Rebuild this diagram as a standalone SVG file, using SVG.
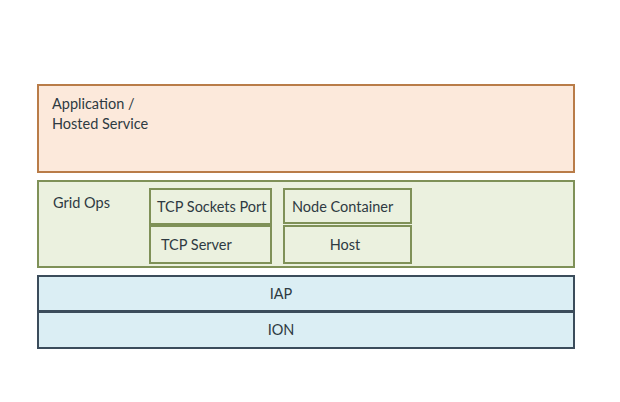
<svg xmlns="http://www.w3.org/2000/svg" width="620" height="402" viewBox="0 0 620 402">
<style>
text{font-family:Lato,"Open Sans","Liberation Sans",sans-serif;font-size:14.5px;fill:#2e3a42}
.app{fill:#fce9db;stroke:#b97c48;stroke-width:2}
.grid{fill:#ebf1df;stroke:#7f9158;stroke-width:2}
.inner{fill:#ebf1df;stroke:#7f9158;stroke-width:2}
.net{fill:#dbeef4;stroke:#3b4c5b;stroke-width:2}
.c{text-anchor:middle}
</style>
<rect width="620" height="402" fill="#ffffff"/>
<g id="application">
<rect class="app" x="38" y="85" width="536" height="87"/>
<text x="52" y="109">Application /</text>
<text x="52" y="129">Hosted Service</text>
</g>
<g id="gridops">
<rect class="grid" x="38" y="181" width="536" height="86"/>
<text x="53" y="208">Grid Ops</text>
</g>
<g id="tcpsocketsport">
<rect class="inner" x="150" y="189" width="121" height="35"/>
<text x="157" y="212">TCP Sockets Port</text>
</g>
<g id="tcpserver">
<rect class="inner" x="150" y="226" width="121" height="37"/>
<text x="161" y="250">TCP Server</text>
</g>
<g id="nodecontainer">
<rect class="inner" x="284" y="189" width="127" height="34"/>
<text x="292" y="212">Node Container</text>
</g>
<g id="host">
<rect class="inner" x="284" y="226" width="127" height="37"/>
<text class="c" x="345" y="250">Host</text>
</g>
<g id="iap">
<rect class="net" x="38" y="276" width="536" height="35"/>
<text class="c" x="281" y="299">IAP</text>
</g>
<g id="ion">
<rect class="net" x="38" y="312" width="536" height="36"/>
<text class="c" x="281" y="335">ION</text>
</g>
<g id="connectors"></g>
</svg>
